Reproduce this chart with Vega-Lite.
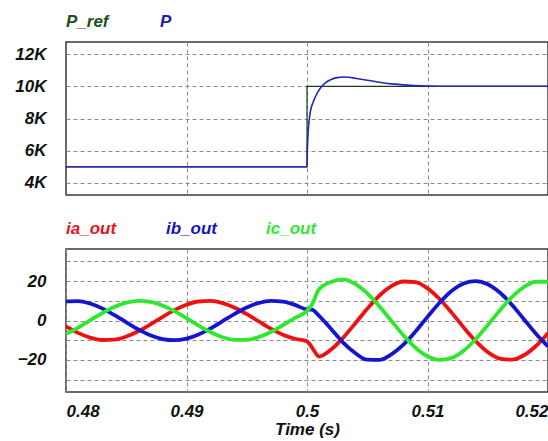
{
  "$schema": "https://vega.github.io/schema/vega-lite/v6.json",
  "padding": {"left": 5, "top": 12, "right": 0, "bottom": 4},
  "spacing": 23,
  "config": {
    "font": "Liberation Sans",
    "view": {"stroke": "#3a3a3a", "strokeWidth": 1.5},
    "axis": {
      "grid": true, "gridColor": "#8a8a8a", "gridDash": [4, 3], "gridWidth": 1,
      "domain": false, "ticks": false,
      "labelFont": "Liberation Sans", "labelFontSize": 17, "labelFontWeight": "bold", "labelFontStyle": "italic", "labelColor": "#111111",
      "titleFont": "Liberation Sans", "titleFontSize": 17, "titleFontWeight": "bold", "titleFontStyle": "italic", "titleColor": "#111111"
    },
    "legend": {
      "orient": "top", "direction": "horizontal", "title": null,
      "symbolType": "circle", "symbolSize": 1, "symbolOpacity": 0, "symbolStrokeWidth": 0, "symbolStrokeColor": "transparent", "symbolFillColor": "transparent", "labelOffset": -17, "padding": 0,
      "labelFont": "Liberation Sans", "labelFontSize": 17, "labelFontWeight": "bold", "labelFontStyle": "italic",
      "gridAlign": "all", "offset": 12
    }
  },
  "datasets": {
    "pref": [
      {"t": 0.48, "p": 5000, "series": "P_ref"},
      {"t": 0.5, "p": 10000, "series": "P_ref"},
      {"t": 0.52, "p": 10000, "series": "P_ref"}
    ],
    "pmeas": [
      {"t": 0.48, "p": 5000, "series": "P"},
      {"t": 0.5, "p": 5000, "series": "P"},
      {"t": 0.50003, "p": 6000, "series": "P"},
      {"t": 0.5001, "p": 7200, "series": "P"},
      {"t": 0.5002, "p": 8000, "series": "P"},
      {"t": 0.5003, "p": 8500, "series": "P"},
      {"t": 0.5005, "p": 9000, "series": "P"},
      {"t": 0.5007, "p": 9350, "series": "P"},
      {"t": 0.5009, "p": 9650, "series": "P"},
      {"t": 0.5011, "p": 9880, "series": "P"},
      {"t": 0.5015, "p": 10200, "series": "P"},
      {"t": 0.502, "p": 10420, "series": "P"},
      {"t": 0.5025, "p": 10540, "series": "P"},
      {"t": 0.503, "p": 10580, "series": "P"},
      {"t": 0.5035, "p": 10560, "series": "P"},
      {"t": 0.504, "p": 10500, "series": "P"},
      {"t": 0.505, "p": 10380, "series": "P"},
      {"t": 0.506, "p": 10250, "series": "P"},
      {"t": 0.507, "p": 10150, "series": "P"},
      {"t": 0.508, "p": 10090, "series": "P"},
      {"t": 0.509, "p": 10040, "series": "P"},
      {"t": 0.51, "p": 10010, "series": "P"},
      {"t": 0.511, "p": 10000, "series": "P"},
      {"t": 0.52, "p": 10000, "series": "P"}
    ],
    "currents": [
      {"t": 0.480, "ia_out": -2.97, "ib_out": 9.75, "ic_out": -6.78},
      {"t": 0.481, "ia_out": -6.28, "ib_out": 9.88, "ic_out": -3.60},
      {"t": 0.482, "ia_out": -8.70, "ib_out": 8.62, "ic_out": 0.08},
      {"t": 0.483, "ia_out": -9.90, "ib_out": 6.15, "ic_out": 3.75},
      {"t": 0.484, "ia_out": -9.72, "ib_out": 2.81, "ic_out": 6.91},
      {"t": 0.485, "ia_out": -8.16, "ib_out": -0.92, "ic_out": 9.08},
      {"t": 0.486, "ia_out": -5.46, "ib_out": -4.52, "ic_out": 9.98},
      {"t": 0.487, "ia_out": -2.00, "ib_out": -7.49, "ic_out": 9.49},
      {"t": 0.488, "ia_out": 1.75, "ib_out": -9.40, "ic_out": 7.65},
      {"t": 0.489, "ia_out": 5.25, "ib_out": -10.00, "ic_out": 4.75},
      {"t": 0.490, "ia_out": 8.02, "ib_out": -9.19, "ic_out": 1.17},
      {"t": 0.491, "ia_out": 9.65, "ib_out": -7.09, "ic_out": -2.56},
      {"t": 0.492, "ia_out": 9.94, "ib_out": -3.99, "ic_out": -5.95},
      {"t": 0.493, "ia_out": 8.82, "ib_out": -0.34, "ic_out": -8.48},
      {"t": 0.494, "ia_out": 6.47, "ib_out": 3.37, "ic_out": -9.84},
      {"t": 0.495, "ia_out": 3.21, "ib_out": 6.60, "ic_out": -9.81},
      {"t": 0.496, "ia_out": -0.50, "ib_out": 8.90, "ic_out": -8.40},
      {"t": 0.497, "ia_out": -4.14, "ib_out": 9.95, "ic_out": -5.81},
      {"t": 0.498, "ia_out": -7.20, "ib_out": 9.61, "ic_out": -2.41},
      {"t": 0.499, "ia_out": -9.25, "ib_out": 7.91, "ic_out": 1.34},
      {"t": 0.500, "ia_out": -10.5, "ib_out": 5.6, "ic_out": 4.9},
      {"t": 0.5004, "ia_out": -13.5, "ib_out": 5.5, "ic_out": 8.0},
      {"t": 0.501, "ia_out": -18.3, "ib_out": 2.4, "ic_out": 15.9},
      {"t": 0.502, "ia_out": -14.76, "ib_out": -4.32, "ic_out": 19.6},
      {"t": 0.503, "ia_out": -8.74, "ib_out": -11.20, "ic_out": 20.9},
      {"t": 0.504, "ia_out": -1.50, "ib_out": -16.52, "ic_out": 18.6},
      {"t": 0.505, "ia_out": 5.94, "ib_out": -19.9, "ic_out": 13.8},
      {"t": 0.506, "ia_out": 12.56, "ib_out": -20.0, "ic_out": 7.20},
      {"t": 0.507, "ia_out": 17.40, "ib_out": -17.24, "ic_out": -0.16},
      {"t": 0.508, "ia_out": 19.80, "ib_out": -12.30, "ic_out": -7.50},
      {"t": 0.509, "ia_out": 19.44, "ib_out": -5.62, "ic_out": -13.82},
      {"t": 0.510, "ia_out": 16.32, "ib_out": 1.84, "ic_out": -18.16},
      {"t": 0.511, "ia_out": 10.92, "ib_out": 9.04, "ic_out": -19.96},
      {"t": 0.512, "ia_out": 4.00, "ib_out": 14.98, "ic_out": -18.98},
      {"t": 0.513, "ia_out": -3.50, "ib_out": 18.80, "ic_out": -15.30},
      {"t": 0.514, "ia_out": -10.50, "ib_out": 20.00, "ic_out": -9.50},
      {"t": 0.515, "ia_out": -16.04, "ib_out": 18.38, "ic_out": -2.34},
      {"t": 0.516, "ia_out": -19.30, "ib_out": 14.18, "ic_out": 5.12},
      {"t": 0.517, "ia_out": -19.88, "ib_out": 7.98, "ic_out": 11.90},
      {"t": 0.518, "ia_out": -17.64, "ib_out": 0.68, "ic_out": 16.96},
      {"t": 0.519, "ia_out": -12.94, "ib_out": -6.74, "ic_out": 19.68},
      {"t": 0.520, "ia_out": -6.42, "ib_out": -13.20, "ic_out": 19.62}
    ]
  },
  "vconcat": [
    {
      "width": 482,
      "height": 153,
      "encoding": {
        "x": {"field": "t", "type": "quantitative",
          "scale": {"domain": [0.48, 0.52], "nice": false, "zero": false},
          "axis": {"labels": false, "title": null, "values": [0.49, 0.5, 0.51]}},
        "y": {"field": "p", "type": "quantitative",
          "scale": {"domain": [3250, 12750], "nice": false, "zero": false},
          "axis": {"title": null, "values": [4000, 6000, 8000, 10000, 12000],
            "labelExpr": "(datum.value / 1000) + 'K'", "labelPadding": 20, "minExtent": 60, "maxExtent": 60}},
        "color": {"field": "series", "type": "nominal",
          "scale": {"domain": ["P_ref", "P"], "range": ["#173f17", "#2626b8"]},
          "legend": {"columnPadding": 51,
            "encode": {"labels": {"update": {"fill": {"signal": "datum.value === 'P_ref' ? '#1f4f1f' : '#1c1cb0'"}}}}}}
      },
      "layer": [
        {"data": {"name": "pref"}, "mark": {"type": "line", "interpolate": "step-after", "strokeWidth": 1.2}},
        {"data": {"name": "pmeas"}, "mark": {"type": "line", "interpolate": "monotone", "strokeWidth": 1.6}}
      ]
    },
    {
      "width": 482,
      "height": 143,
      "data": {"name": "currents"},
      "transform": [{"fold": ["ia_out", "ib_out", "ic_out"], "as": ["phase", "i"]}],
      "mark": {"type": "line", "interpolate": "monotone", "strokeWidth": 3.8},
      "encoding": {
        "x": {"field": "t", "type": "quantitative",
          "scale": {"domain": [0.48, 0.52], "nice": false, "zero": false},
          "axis": {"title": "Time (s)", "values": [0.48, 0.49, 0.5, 0.51, 0.52], "format": "~g", "labelPadding": 11, "titlePadding": 2}},
        "y": {"field": "i", "type": "quantitative",
          "scale": {"domain": [-36.3, 36.3], "nice": false, "zero": false},
          "axis": {"title": null, "values": [-30, -20, -10, 0, 10, 20, 30],
            "labelExpr": "datum.value % 20 === 0 ? datum.label : ''", "labelPadding": 20, "minExtent": 60, "maxExtent": 60}},
        "color": {"field": "phase", "type": "nominal",
          "scale": {"domain": ["ia_out", "ib_out", "ic_out"], "range": ["#ee1111", "#1515d0", "#2ee82e"]},
          "legend": {"columnPadding": 49,
            "encode": {"labels": {"update": {"fill": {"signal": "datum.value === 'ia_out' ? '#e8141c' : (datum.value === 'ib_out' ? '#1414c8' : '#33e633')"}}}}}}
      }
    }
  ],
  "resolve": {"scale": {"color": "independent"}, "legend": {"color": "independent"}}
}
